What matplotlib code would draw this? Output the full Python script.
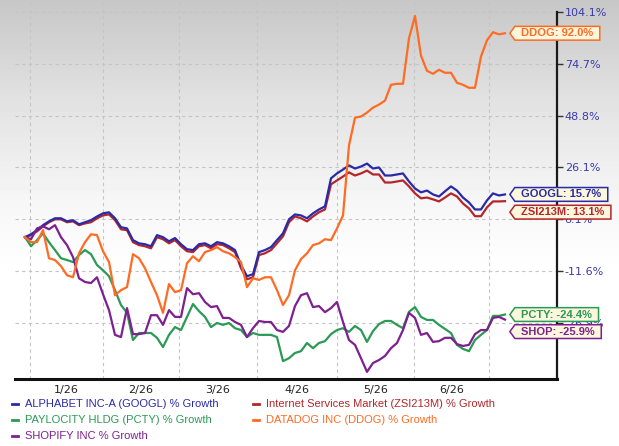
import numpy as np
import matplotlib.pyplot as plt
from matplotlib.path import Path
from matplotlib.lines import Line2D

# % growth since start, one sample every ~1.5 trading days (late Dec -> mid Jul)
googl = [0.0, 1.0, 2.4, 4.1, 5.4, 6.5, 6.5, 5.4, 5.8, 4.4, 5.1, 5.8, 7.2, 8.4, 8.8, 6.5, 3.4, 3.0,
         -1.0, -2.1, -2.4, -3.1, 0.7, 0.0, -1.4, -0.3, -2.4, -4.1, -4.4, -2.4, -2.1, -3.1, -1.7, -2.1,
         -3.1, -4.4, -9.5, -13.1, -12.5, -5.1, -4.4, -3.4, -1.0, 1.3, 6.1, 8.0, 7.6, 6.5, 8.4, 9.9,
         11.1, 21.9, 23.8, 25.3, 27.0, 25.7, 26.5, 27.8, 25.7, 26.1, 23.0, 23.0, 23.4, 23.8, 20.7,
         18.0, 16.5, 17.2, 15.7, 14.9, 16.9, 18.8, 17.2, 14.5, 12.6, 9.9, 9.9, 13.4, 16.1, 15.3, 15.7]
zsi = [0.0, 0.7, 2.0, 3.7, 5.1, 6.1, 6.1, 5.1, 5.4, 4.1, 4.7, 5.1, 6.5, 7.6, 8.0, 5.8, 2.7, 2.4,
       -1.7, -2.7, -3.1, -3.8, 0.0, -0.7, -2.1, -1.0, -3.1, -4.8, -5.1, -3.1, -2.7, -3.8, -2.4, -2.7,
       -3.8, -5.1, -10.6, -14.0, -13.4, -6.1, -5.5, -4.4, -2.1, 0.3, 5.1, 7.2, 6.5, 5.4, 7.2, 8.8,
       9.9, 19.6, 21.1, 22.6, 24.2, 23.0, 23.8, 24.9, 23.4, 23.4, 20.3, 20.3, 20.7, 21.1, 18.8,
       16.1, 14.2, 14.5, 13.8, 13.0, 14.5, 16.1, 14.9, 12.2, 10.3, 7.3, 7.3, 10.7, 13.0, 13.0, 13.1]
pcty = [0.0, -3.1, -1.0, 1.3, -1.7, -4.4, -7.2, -7.8, -8.5, -6.1, -4.4, -5.8, -9.5, -11.3, -13.1,
        -17.2, -21.6, -23.9, -31.5, -29.6, -29.6, -29.6, -30.9, -33.4, -30.1, -28.0, -28.8, -25.1,
        -21.3, -23.4, -25.1, -28.0, -26.9, -27.4, -26.9, -28.3, -28.8, -30.7, -29.6, -30.1, -30.1,
        -30.1, -30.7, -37.2, -36.4, -35.0, -34.5, -32.3, -33.7, -32.3, -31.8, -29.9, -28.8, -28.3,
        -29.3, -27.7, -28.8, -32.0, -29.1, -27.2, -26.3, -26.3, -27.4, -28.3, -23.6, -22.2, -25.1,
        -26.0, -26.0, -27.4, -28.5, -29.6, -32.8, -33.9, -34.5, -31.5, -30.1, -28.8, -24.8, -24.8, -24.4]
ddog = [0.0, -1.7, -1.7, 2.4, -7.2, -7.8, -9.9, -12.8, -13.4, -5.5, -1.7, 1.0, 0.7, -4.8, -8.5,
        -18.7, -17.2, -16.3, -5.8, -7.2, -10.6, -14.8, -18.7, -23.9, -15.4, -17.8, -17.2, -8.9, -6.5,
        -8.2, -5.1, -4.4, -3.4, -4.8, -5.5, -6.8, -8.5, -16.3, -13.7, -14.2, -13.4, -13.4, -17.2,
        -21.6, -18.7, -11.3, -7.5, -5.5, -2.7, -2.1, -0.7, -1.0, 3.0, 7.6, 35.7, 47.9, 48.4, 50.3,
        52.8, 54.3, 56.3, 64.2, 64.7, 64.7, 89.1, 101.8, 79.3, 71.2, 69.7, 71.7, 70.2, 70.2, 65.2,
        64.2, 62.7, 62.7, 78.8, 88.0, 92.6, 91.4, 92.0]
shop = [0.0, -0.7, 3.0, 3.7, 2.7, 4.1, 0.0, -2.7, -6.8, -13.7, -14.8, -15.1, -13.4, -18.4, -23.1,
        -30.1, -30.7, -22.5, -29.9, -29.9, -29.6, -24.6, -24.6, -27.4, -23.1, -25.1, -25.1, -16.6,
        -18.4, -18.1, -20.7, -22.2, -21.9, -25.4, -25.4, -26.6, -27.4, -30.7, -28.3, -26.3, -26.6,
        -26.6, -28.8, -29.3, -27.7, -21.9, -18.7, -18.1, -22.2, -21.9, -23.7, -22.5, -20.7, -26.6,
        -31.5, -32.8, -36.4, -40.1, -37.7, -36.9, -35.8, -33.7, -32.3, -28.8, -23.9, -25.4, -30.1,
        -29.6, -32.0, -31.8, -30.9, -30.9, -32.6, -33.1, -32.8, -29.9, -28.8, -28.8, -25.4, -25.1, -25.9]

month_labels = ['1/26', '2/26', '3/26', '4/26', '5/26', '6/26']
month_starts = [0.83, 13.0, 25.67, 38.67, 52.0, 64.83, 77.33]  # sample index where months begin
ytick_vals = [-26.9, -11.6, 6.1, 26.1, 48.8, 74.7, 104.1]

# the chart's y axis puts these labels at equal steps (log-like), extend a bit past both ends
knot_vals = [-54.0, -40.9] + ytick_vals + [136.7, 170.0]
knot_pos = np.arange(-2, len(knot_vals) - 2)


def fwd(v):
    return np.interp(v, knot_vals, knot_pos)


def inv(p):
    return np.interp(p, knot_pos, knot_vals)


series = [
    ('Internet Services Market (ZSI213M) % Growth', 'ZSI213M', zsi, '#b3262a', -11),
    ('ALPHABET INC-A (GOOGL) % Growth', 'GOOGL', googl, '#2a2aa8', 0),
    ('PAYLOCITY HLDG (PCTY) % Growth', 'PCTY', pcty, '#2b9a55', 0),
    ('SHOPIFY INC % Growth', 'SHOP', shop, '#7d2090', -12),
    ('DATADOG INC (DDOG) % Growth', 'DDOG', ddog, '#ff6b22', 0),
]

W, H = 619, 446
fig = plt.figure(figsize=(W / 100, H / 100), dpi=100)

# grey-to-white wash behind everything
bg = fig.add_axes([0, 0, 1, 1], zorder=-1)
rows = np.arange(H)
shade = np.interp(rows, [0, 100, 200, 270, H], [0.78, 0.885, 0.965, 1.0, 1.0])
bg.imshow(shade[:, None], aspect='auto', cmap='gray', vmin=0, vmax=1, extent=[0, 1, 0, 1])
bg.axis('off')

ax = fig.add_axes([15 / W, 67 / H, (557 - 15) / W, 379 / H])
ax.set_facecolor('none')
ax.set_yscale('function', functions=(fwd, inv))

x = np.arange(len(googl))
for name, short, vals, col, dy in series:
    ax.plot(x, vals, color=col, lw=1.6, solid_joinstyle='round')

ax.set_xlim(-1.667, 88.67)
ax.set_ylim(inv(-1.08), inv(6.23))

ax.yaxis.tick_right()
ax.set_yticks(ytick_vals, labels=[f'{v:.1f}%' for v in ytick_vals])
ax.tick_params(axis='y', direction='out', length=4, width=1, color='#333333',
               labelcolor='#3b3bab', labelsize=8, pad=1.5)

mids = [(a + b) / 2 for a, b in zip(month_starts[:-1], month_starts[1:])]
ax.set_xticks(mids, labels=month_labels)
ax.set_xticks(month_starts, minor=True)
ax.tick_params(axis='x', which='both', length=0, labelsize=8, labelcolor='#222222', pad=4)

ax.grid(which='minor', axis='x', color='#c4c4c4', lw=0.8, ls=(0, (3, 3)))
ax.grid(which='major', axis='y', color='#c4c4c4', lw=0.8, ls=(0, (3, 3)))
ax.grid(which='major', axis='x', visible=False)

for s in ['top', 'left']:
    ax.spines[s].set_visible(False)
ax.spines['right'].set_bounds(ax.get_ylim()[0], 104.1)
ax.spines['right'].set_linewidth(1.6)
ax.spines['right'].set_color('#1a1a1a')
ax.spines['bottom'].set_linewidth(2.2)
ax.spines['bottom'].set_color('#111111')


def tag_shape(x0, y0, width, height, mutation_size):
    padl = 0.55 * mutation_size
    padr = 0.6 * mutation_size
    pady = 0.17 * mutation_size
    tip = 0.45 * mutation_size
    l, r = x0 - padl, x0 + width + padr
    b, t = y0 - pady, y0 + height + pady
    verts = [(l - tip, (b + t) / 2), (l, b), (r, b), (r, t), (l, t), (l - tip, (b + t) / 2)]
    return Path(verts, closed=True)


for name, short, vals, col, dy in series:
    ax.annotate(f'{short}: {vals[-1]:.1f}%', xy=(x[-1], vals[-1]), xytext=(16, dy),
                textcoords='offset pixels', ha='left', va='center', fontsize=8,
                family='Liberation Sans', fontweight='bold', color=col,
                bbox=dict(boxstyle=tag_shape, fc='#fbf6dc', ec=col, lw=1.1),
                annotation_clip=False, zorder=10)

# legend, two columns as in the source
legend_slots = {'GOOGL': (0, 0), 'PCTY': (0, 1), 'SHOP': (0, 2), 'ZSI213M': (1, 0), 'DDOG': (1, 1)}
col_x = [12, 253]
row_y = [404, 420, 436]
for name, short, vals, col, dy in series:
    c, r = legend_slots[short]
    yy = 1 - row_y[r] / H
    fig.add_artist(Line2D([col_x[c] / W, (col_x[c] + 6) / W], [yy, yy], color=col, lw=2,
                          transform=fig.transFigure))
    fig.text((col_x[c] + 13) / W, yy, name, color=col, fontsize=8, family='Liberation Sans',
             va='center', ha='left')

fig.savefig('out.png', dpi=100)
